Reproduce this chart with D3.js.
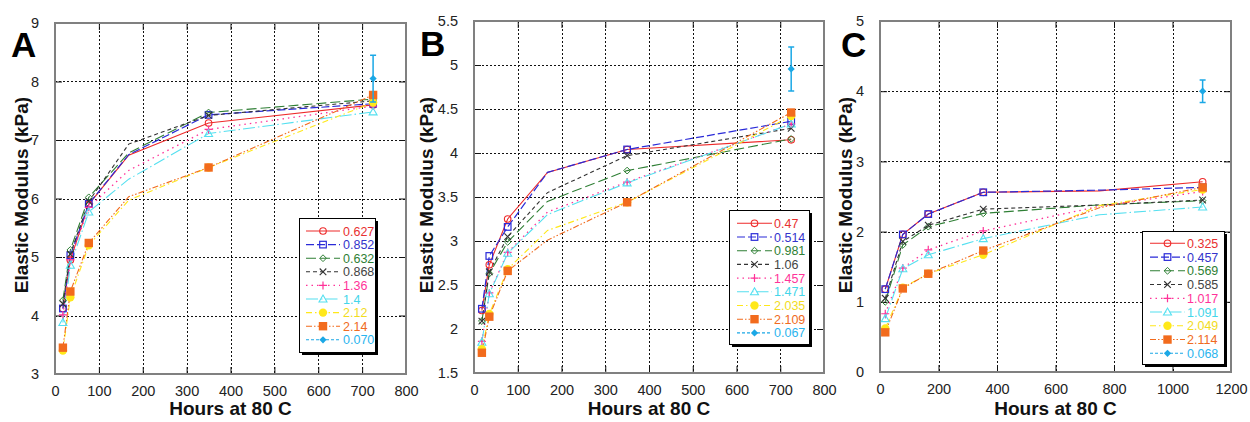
<!DOCTYPE html>
<html><head><meta charset="utf-8">
<script src="https://cdn.jsdelivr.net/npm/d3@7"></script>
<style>
body{margin:0;background:#fff}
svg{display:block}
text{font-family:"Liberation Sans",Arial,Helvetica,sans-serif}
</style>
</head><body>
<svg id="chart" width="1250" height="422"></svg>
<script>
// ---------------- DATA ----------------
const hoursAB = [18, 35, 77, 168, 350, 725];
const markedAB = [true, true, true, false, true, true];
const hoursC = [18, 78, 165, 353, 750, 1103];
const markedC = [true, true, true, true, false, true];

const labelsA = ["0.627", "0.852", "0.632", "0.868", "1.36", "1.4", "2.12", "2.14", "0.070"];
const valuesA = [
  [4.12, 4.95, 5.90, 6.74, 7.29, 7.60],
  [4.12, 5.03, 5.91, 6.75, 7.43, 7.62],
  [4.26, 5.12, 6.02, 6.78, 7.47, 7.70],
  [4.20, 5.05, 5.95, 6.93, 7.42, 7.67],
  [4.01, 4.95, 5.85, 6.48, 7.18, 7.58],
  [3.88, 4.86, 5.77, 6.33, 7.11, 7.48],
  [3.40, 4.31, 5.20, 5.97, 6.53, 7.64],
  [3.45, 4.41, 5.24, 6.03, 6.53, 7.77]
];
const refA = {hour: 725, value: 8.05, err: 0.40};

const labelsB = ["0.47", "0.514", "0.981", "1.06", "1.457", "1.471", "2.035", "2.109", "0.067"];
const valuesB = [
  [2.21, 2.73, 3.25, 3.78, 4.04, 4.15],
  [2.23, 2.83, 3.16, 3.78, 4.04, 4.36],
  [2.09, 2.63, 2.99, 3.45, 3.80, 4.16],
  [2.09, 2.65, 3.05, 3.55, 3.97, 4.28],
  [1.86, 2.41, 2.87, 3.33, 3.67, 4.33],
  [1.85, 2.40, 2.86, 3.30, 3.66, 4.33],
  [1.77, 2.17, 2.68, 3.12, 3.44, 4.42],
  [1.73, 2.14, 2.66, 3.01, 3.44, 4.46]
];
const refB = {hour: 725, value: 4.955, err: 0.25};

const labelsC = ["0.325", "0.457", "0.569", "0.585", "1.017", "1.091", "2.049", "2.114", "0.068"];
const valuesC = [
  [1.18, 1.96, 2.25, 2.56, 2.58, 2.71],
  [1.18, 1.96, 2.25, 2.56, 2.59, 2.63],
  [1.00, 1.81, 2.07, 2.26, 2.38, 2.44],
  [1.05, 1.86, 2.09, 2.32, 2.38, 2.45],
  [0.83, 1.48, 1.74, 2.01, 2.36, 2.57],
  [0.76, 1.47, 1.67, 1.90, 2.24, 2.35],
  [0.62, 1.20, 1.40, 1.67, 2.37, 2.60],
  [0.565, 1.19, 1.40, 1.73, 2.34, 2.63]
];
const refC = {hour: 1103, value: 4.00, err: 0.16};

const xTicksAB = [0, 100, 200, 300, 400, 500, 600, 700, 800];
const xTicksC = [0, 200, 400, 600, 800, 1000, 1200];
const yTicksA = [3, 4, 5, 6, 7, 8, 9];
const yTicksB = [1.5, 2, 2.5, 3, 3.5, 4, 4.5, 5, 5.5];
const yTicksC = [0, 1, 2, 3, 4, 5];

const xTitle = "Hours at 80 C";
const yTitle = "Elastic Modulus (kPa)";

// ---------------- STYLES ----------------
const styles = [
  {color: "#ee2a2a", text: "#e83030", dash: null, marker: "circle", w: 1.1},
  {color: "#2a2ad8", text: "#3434cc", dash: "8,3", marker: "square", w: 1.2},
  {color: "#2f7f35", text: "#2f7f35", dash: "10,4", marker: "diamond", w: 1.1},
  {color: "#333333", text: "#444444", dash: "4,3", marker: "x", w: 1.1},
  {color: "#ff3399", text: "#ff3399", dash: "1.5,4", marker: "plus", w: 1.3},
  {color: "#55e0f0", text: "#44d6ea", dash: "12,3,1.5,3", marker: "triangle", w: 1.1},
  {color: "#ffe81a", text: "#f2dc1e", dash: "6,3,1.5,3", marker: "fcircle", w: 1.1},
  {color: "#f26b1d", text: "#f06a22", dash: "6,2,1.5,2,1.5,2", marker: "fsquare", w: 1.1},
  {color: "#1ba8e6", text: "#2ab4ee", dash: "3,2", marker: "fdiamond", w: 1.1}
];

const panels = [
  {letter: "A", box: [55, 23, 406, 374], xDomain: [0, 800], xTicks: xTicksAB, yDomain: [3, 9], yTicks: yTicksA,
   hours: hoursAB, marked: markedAB, values: valuesA, labels: labelsA, ref: refA,
   legend: {x: 299, y: 218, w: 76, h: 134, row0: 231, dy: 13.6, lx0: 306, lx1: 340, tx: 343},
   letterPos: [11, 57], yTitleX: 21},
  {letter: "B", box: [474, 21, 824, 373], xDomain: [0, 800], xTicks: xTicksAB, yDomain: [1.5, 5.5], yTicks: yTicksB,
   hours: hoursAB, marked: markedAB, values: valuesB, labels: labelsB, ref: refB,
   legend: {x: 729, y: 210, w: 80, h: 134, row0: 223.3, dy: 13.7, lx0: 737, lx1: 772, tx: 774},
   letterPos: [420, 56], yTitleX: 426},
  {letter: "C", box: [880, 21, 1231, 372], xDomain: [0, 1200], xTicks: xTicksC, yDomain: [0, 5], yTicks: yTicksC,
   hours: hoursC, marked: markedC, values: valuesC, labels: labelsC, ref: refC,
   legend: {x: 1142, y: 231, w: 82, h: 133, row0: 243.3, dy: 13.75, lx0: 1150, lx1: 1185, tx: 1187},
   letterPos: [841, 57], yTitleX: 845}
];

const svg = d3.select("#chart");

function drawMarker(g, type, x, y, color) {
  const s = 3.3;
  switch (type) {
    case "circle":
      g.append("circle").attr("cx", x).attr("cy", y).attr("r", 3.3).attr("fill", "none").attr("stroke", color).attr("stroke-width", 1.1); break;
    case "square":
      g.append("rect").attr("x", x - 3.3).attr("y", y - 3.3).attr("width", 6.6).attr("height", 6.6).attr("fill", "none").attr("stroke", color).attr("stroke-width", 1.2); break;
    case "diamond":
      g.append("path").attr("d", `M${x},${y - 3.4}L${x + 3.4},${y}L${x},${y + 3.4}L${x - 3.4},${y}Z`).attr("fill", "none").attr("stroke", color).attr("stroke-width", 1); break;
    case "x":
      g.append("path").attr("d", `M${x - s},${y - s}L${x + s},${y + s}M${x - s},${y + s}L${x + s},${y - s}`).attr("stroke", color).attr("stroke-width", 1.1); break;
    case "plus":
      g.append("path").attr("d", `M${x - 4},${y}L${x + 4},${y}M${x},${y - 4}L${x},${y + 4}`).attr("stroke", color).attr("stroke-width", 1.2); break;
    case "triangle":
      g.append("path").attr("d", `M${x},${y - 4}L${x + 4},${y + 3}L${x - 4},${y + 3}Z`).attr("fill", "none").attr("stroke", color).attr("stroke-width", 1.1); break;
    case "fcircle":
      g.append("circle").attr("cx", x).attr("cy", y).attr("r", 4.2).attr("fill", color); break;
    case "fsquare":
      g.append("rect").attr("x", x - 4.2).attr("y", y - 4.2).attr("width", 8.4).attr("height", 8.4).attr("fill", color); break;
    case "fdiamond":
      g.append("path").attr("d", `M${x},${y - 3.6}L${x + 3.6},${y}L${x},${y + 3.6}L${x - 3.6},${y}Z`).attr("fill", color); break;
  }
}

panels.forEach(p => {
  const [L, T, R, B] = p.box;
  const x = d3.scaleLinear().domain(p.xDomain).range([L, R]);
  const y = d3.scaleLinear().domain(p.yDomain).range([B, T]);
  const g = svg.append("g");

  // grid
  const grid = g.append("g").attr("stroke", "#111").attr("stroke-width", 1).attr("stroke-dasharray", "2,2");
  p.xTicks.slice(1, -1).forEach(t => grid.append("line").attr("x1", Math.round(x(t)) + 0.5).attr("x2", Math.round(x(t)) + 0.5).attr("y1", T).attr("y2", B));
  p.yTicks.slice(1, -1).forEach(t => grid.append("line").attr("y1", Math.round(y(t)) + 0.5).attr("y2", Math.round(y(t)) + 0.5).attr("x1", L).attr("x2", R));

  // axes via d3 (inward ticks on all sides)
  const axB = d3.axisBottom(x).tickValues(p.xTicks).tickSize(-7).tickPadding(12).tickFormat(d => String(d));
  const axT = d3.axisTop(x).tickValues(p.xTicks).tickSize(-7).tickFormat("");
  const axL = d3.axisLeft(y).tickValues(p.yTicks).tickSize(-7).tickPadding(16).tickFormat(d => String(d));
  const axR = d3.axisRight(y).tickValues(p.yTicks).tickSize(-7).tickFormat("");
  const styleAx = sel => {
    sel.select(".domain").remove();
    sel.selectAll(".tick line").attr("stroke", "#111").attr("stroke-width", 1);
    sel.selectAll(".tick text").attr("fill", "#222").style("font-size", "14.5px").style("font-family", '"Liberation Sans",Arial,sans-serif');
  };
  g.append("g").attr("transform", `translate(0,${B})`).call(axB).call(styleAx);
  g.append("g").attr("transform", `translate(0,${T})`).call(axT).call(styleAx);
  g.append("g").attr("transform", `translate(${L},0)`).call(axL).call(styleAx);
  g.append("g").attr("transform", `translate(${R},0)`).call(axR).call(styleAx);

  // frame
  g.append("rect").attr("x", L).attr("y", T).attr("width", R - L).attr("height", B - T)
    .attr("fill", "none").attr("stroke", "#808080").attr("stroke-width", 2);

  // series lines
  const line = d3.line().x(d => x(d[0])).y(d => y(d[1]));
  p.values.forEach((vals, i) => {
    const st = styles[i];
    const pts = vals.map((v, j) => [p.hours[j], v]);
    g.append("path").attr("d", line(pts)).attr("fill", "none").attr("stroke", st.color)
      .attr("stroke-width", st.w).attr("stroke-dasharray", st.dash);
  });
  // markers
  p.values.forEach((vals, i) => {
    const st = styles[i];
    vals.forEach((v, j) => { if (p.marked[j]) drawMarker(g, st.marker, x(p.hours[j]), y(v), st.color); });
  });
  // reference point with error bar
  const rs = styles[8];
  const rx = x(p.ref.hour);
  g.append("path").attr("d",
    `M${rx},${y(p.ref.value - p.ref.err)}L${rx},${y(p.ref.value + p.ref.err)}` +
    `M${rx - 3},${y(p.ref.value - p.ref.err)}L${rx + 3},${y(p.ref.value - p.ref.err)}` +
    `M${rx - 3},${y(p.ref.value + p.ref.err)}L${rx + 3},${y(p.ref.value + p.ref.err)}`)
    .attr("stroke", rs.color).attr("stroke-width", 1.5).attr("fill", "none");
  drawMarker(g, rs.marker, rx, y(p.ref.value), rs.color);

  // legend
  const lg = p.legend;
  g.append("rect").attr("x", lg.x + 3).attr("y", lg.y + 3).attr("width", lg.w).attr("height", lg.h).attr("fill", "#000");
  g.append("rect").attr("x", lg.x + 0.5).attr("y", lg.y + 0.5).attr("width", lg.w).attr("height", lg.h).attr("fill", "#fff").attr("stroke", "#000").attr("stroke-width", 1);
  p.labels.forEach((lab, i) => {
    const st = styles[i];
    const yy = lg.row0 + i * lg.dy;
    g.append("line").attr("x1", lg.lx0).attr("x2", lg.lx1).attr("y1", yy).attr("y2", yy)
      .attr("stroke", st.color).attr("stroke-width", st.w).attr("stroke-dasharray", st.dash);
    drawMarker(g, st.marker, (lg.lx0 + lg.lx1) / 2, yy, st.color);
    g.append("text").attr("x", lg.tx).attr("y", yy).attr("dy", "0.36em").attr("fill", st.text)
      .style("font-size", "12.5px").text(lab);
  });

  // titles
  g.append("text").attr("x", (L + R) / 2).attr("y", 415).attr("text-anchor", "middle")
    .style("font-size", "19px").style("font-weight", "bold").attr("fill", "#111").text(xTitle);
  g.append("text").attr("transform", `translate(${p.yTitleX},195) rotate(-90)`).attr("text-anchor", "middle")
    .attr("dy", "0.35em").style("font-size", "19px").style("font-weight", "bold").attr("fill", "#111").text(yTitle);
  g.append("text").attr("x", p.letterPos[0]).attr("y", p.letterPos[1])
    .style("font-size", "35px").style("font-weight", "bold").attr("fill", "#000").text(p.letter);
});
</script>
</body></html>
